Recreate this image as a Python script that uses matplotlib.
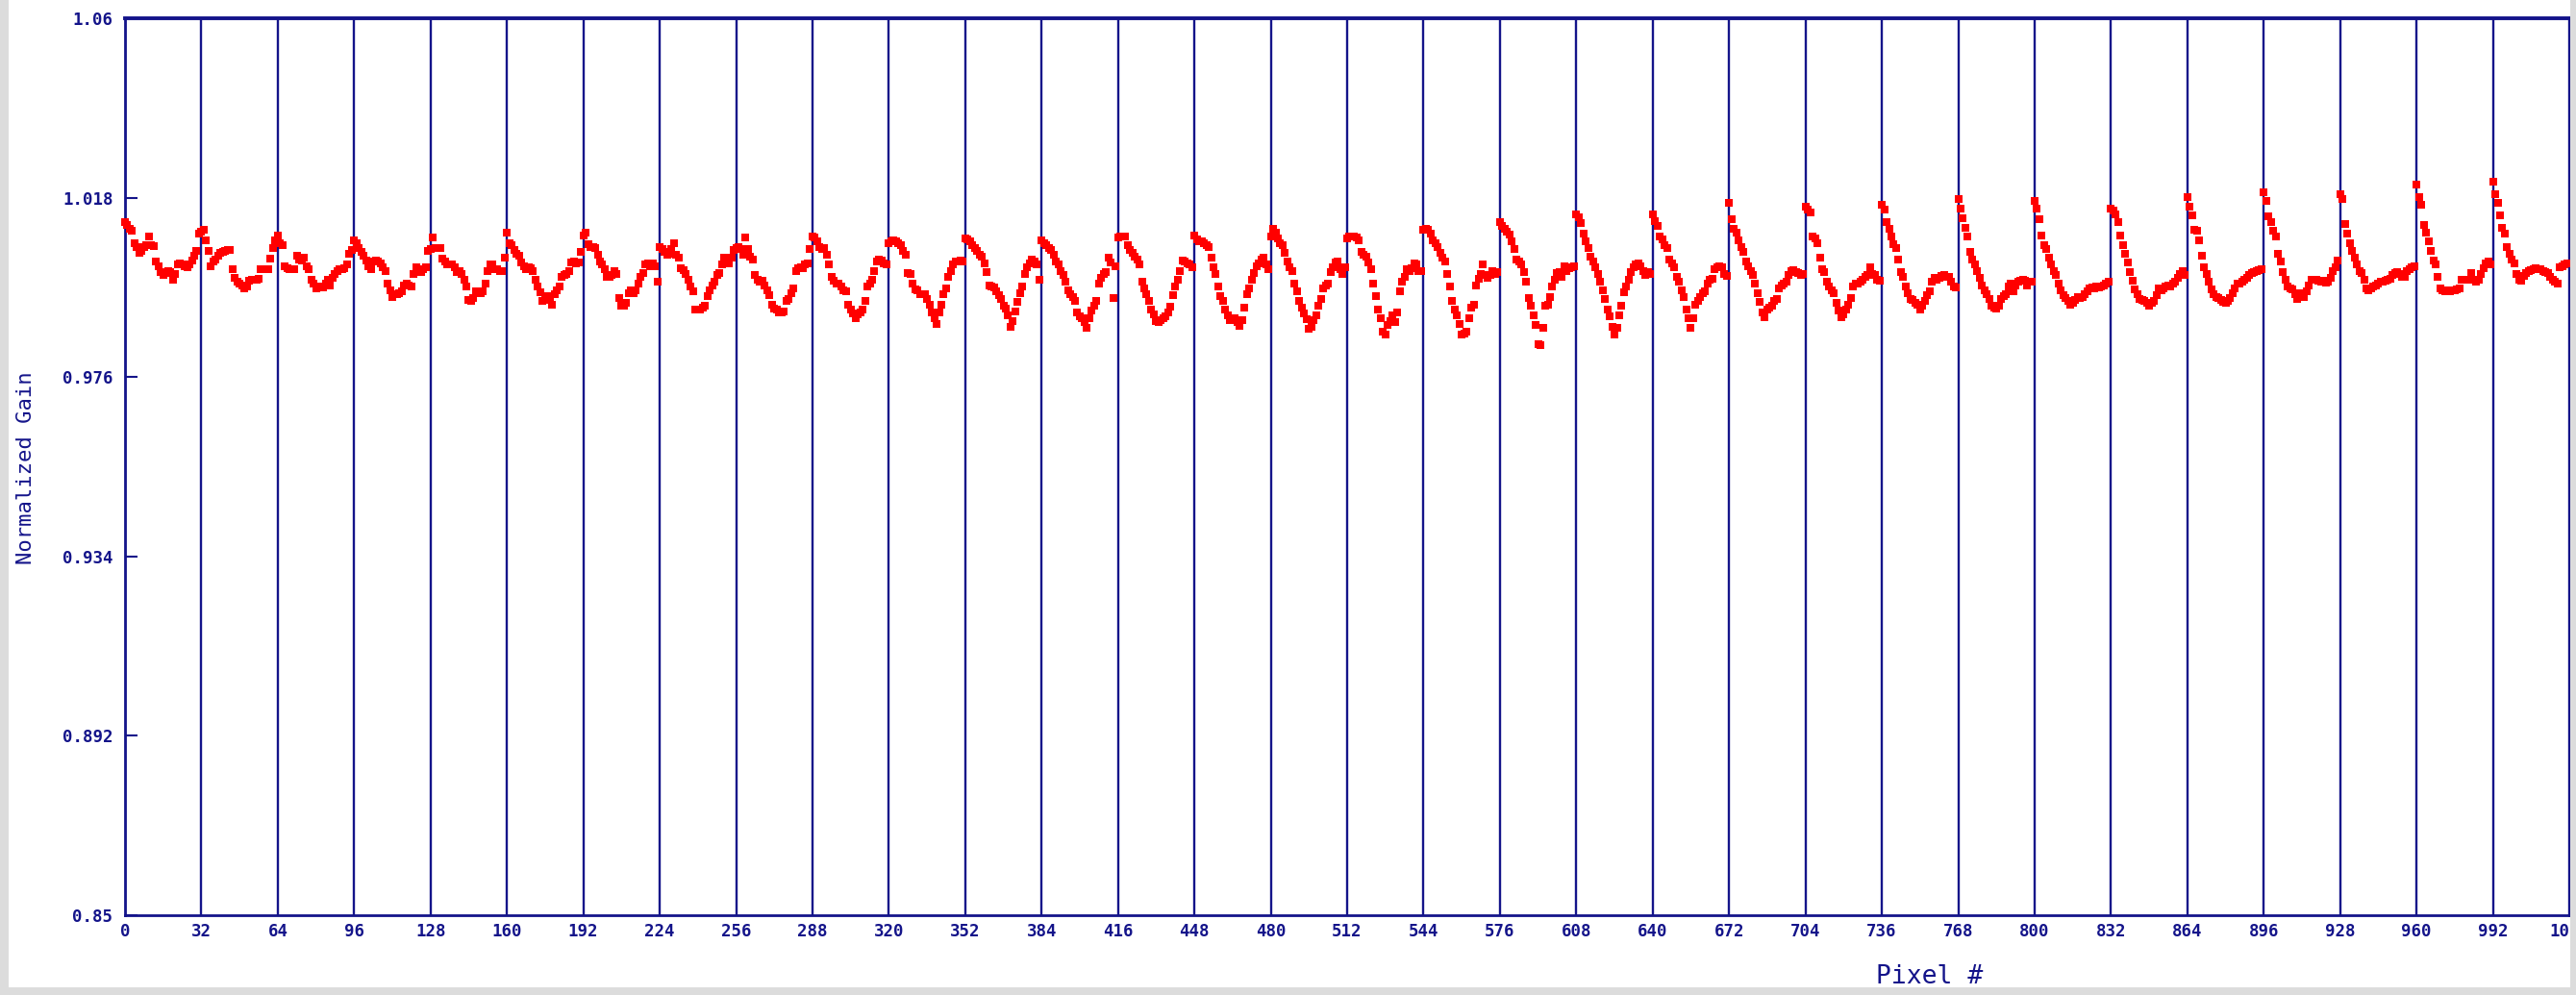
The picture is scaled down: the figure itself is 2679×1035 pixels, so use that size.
import numpy as np
import matplotlib
matplotlib.use("Agg")
import matplotlib.pyplot as plt
from matplotlib.patches import Rectangle

# ---------------- data (normalized gain per pixel) ----------------
gain_px000_127 = [
    1.0122, 1.0116, 1.0108, 1.0103, 1.0073, 1.0065, 1.0050, 1.0056, 1.0065, 1.0069,
    1.0090, 1.0068, 1.0067, 1.0030, 1.0020, 1.0005, 1.0000, 1.0003, 1.0009, 1.0005,
    0.9988, 1.0002, 1.0023, 1.0026, 1.0024, 1.0020, 1.0018, 1.0023, 1.0033, 1.0043,
    1.0056, 1.0095,
    1.0101, 1.0105, 1.0080, 1.0056, 1.0020, 1.0030, 1.0035, 1.0043, 1.0050, 1.0053,
    1.0056, 1.0058, 1.0058, 1.0013, 0.9993, 0.9983, 0.9978, 0.9975, 0.9968, 0.9972,
    0.9985, 0.9988, 0.9988, 0.9988, 0.9990, 1.0013, 1.0013, 1.0013, 1.0013, 1.0038,
    1.0063, 1.0080,
    1.0092, 1.0073, 1.0069, 1.0020, 1.0015, 1.0013, 1.0013, 1.0013, 1.0043, 1.0035,
    1.0033, 1.0039, 1.0020, 1.0013, 0.9988, 0.9979, 0.9968, 0.9970, 0.9972, 0.9970,
    0.9978, 0.9987, 0.9975, 0.9993, 1.0002, 1.0009, 1.0013, 1.0013, 1.0015, 1.0024,
    1.0048, 1.0058,
    1.0080, 1.0073, 1.0063, 1.0053, 1.0043, 1.0032, 1.0020, 1.0013, 1.0030, 1.0032,
    1.0030, 1.0026, 1.0018, 1.0009, 0.9979, 0.9964, 0.9948, 0.9953, 0.9953, 0.9957,
    0.9960, 0.9975, 0.9979, 0.9975, 0.9972, 1.0002, 1.0018, 1.0013, 1.0005, 1.0013,
    1.0017, 1.0056,
]
gain_px128_255 = [
    1.0060, 1.0086, 1.0063, 1.0062, 1.0063, 1.0038, 1.0030, 1.0024, 1.0023, 1.0023,
    1.0017, 1.0005, 1.0008, 1.0002, 0.9988, 0.9972, 0.9940, 0.9938, 0.9945, 0.9960,
    0.9958, 0.9957, 0.9960, 0.9979, 1.0009, 1.0023, 1.0024, 1.0013, 1.0013, 1.0009,
    1.0008, 1.0039,
    1.0098, 1.0073, 1.0068, 1.0058, 1.0048, 1.0043, 1.0028, 1.0020, 1.0013, 1.0017,
    1.0015, 1.0008, 0.9988, 0.9972, 0.9958, 0.9938, 0.9940, 0.9949, 0.9948, 0.9930,
    0.9955, 0.9964, 0.9973, 0.9994, 0.9998, 1.0002, 1.0009, 1.0028, 1.0030, 1.0026,
    1.0028, 1.0054,
    1.0092, 1.0098, 1.0071, 1.0065, 1.0065, 1.0063, 1.0047, 1.0030, 1.0023, 1.0013,
    0.9994, 0.9994, 0.9998, 1.0009, 1.0002, 0.9945, 0.9928, 0.9927, 0.9934, 0.9957,
    0.9963, 0.9957, 0.9963, 0.9979, 0.9994, 1.0003, 1.0023, 1.0026, 1.0020, 1.0026,
    1.0020, 0.9983,
    1.0065, 1.0060, 1.0054, 1.0047, 1.0048, 1.0060, 1.0073, 1.0047, 1.0039, 1.0015,
    1.0011, 1.0002, 0.9988, 0.9972, 0.9960, 0.9919, 0.9918, 0.9919, 0.9923, 0.9927,
    0.9949, 0.9964, 0.9975, 0.9983, 0.9998, 1.0003, 1.0024, 1.0039, 1.0038, 1.0026,
    1.0039, 1.0058,
]
gain_px256_383 = [
    1.0063, 1.0065, 1.0060, 1.0047, 1.0086, 1.0060, 1.0041, 1.0035, 1.0000, 0.9988,
    0.9983, 0.9985, 0.9975, 0.9963, 0.9951, 0.9930, 0.9921, 0.9918, 0.9912, 0.9912,
    0.9913, 0.9938, 0.9943, 0.9957, 0.9968, 1.0009, 1.0015, 1.0017, 1.0015, 1.0023,
    1.0026, 1.0060,
    1.0090, 1.0086, 1.0077, 1.0065, 1.0060, 1.0062, 1.0047, 1.0023, 0.9994, 0.9985,
    0.9979, 0.9979, 0.9972, 0.9964, 0.9960, 0.9930, 0.9918, 0.9908, 0.9897, 0.9906,
    0.9912, 0.9919, 0.9938, 0.9972, 0.9978, 0.9988, 1.0009, 1.0030, 1.0035, 1.0033,
    1.0026, 1.0023,
    1.0073, 1.0078, 1.0080, 1.0077, 1.0073, 1.0068, 1.0056, 1.0047, 1.0003, 1.0002,
    0.9979, 0.9966, 0.9964, 0.9955, 0.9953, 0.9955, 0.9942, 0.9930, 0.9912, 0.9897,
    0.9885, 0.9912, 0.9930, 0.9953, 0.9968, 0.9994, 1.0009, 1.0024, 1.0030, 1.0030,
    1.0033, 1.0030,
    1.0084, 1.0083, 1.0077, 1.0069, 1.0063, 1.0056, 1.0047, 1.0041, 1.0026, 1.0005,
    0.9975, 0.9973, 0.9970, 0.9960, 0.9951, 0.9942, 0.9927, 0.9921, 0.9904, 0.9878,
    0.9891, 0.9913, 0.9936, 0.9957, 0.9973, 1.0002, 1.0017, 1.0026, 1.0035, 1.0030,
    1.0024, 0.9988,
]
gain_px384_511 = [
    1.0080, 1.0073, 1.0068, 1.0063, 1.0058, 1.0047, 1.0030, 1.0024, 1.0009, 0.9998,
    0.9983, 0.9964, 0.9955, 0.9948, 0.9938, 0.9912, 0.9903, 0.9897, 0.9888, 0.9876,
    0.9897, 0.9915, 0.9927, 0.9938, 0.9979, 0.9993, 1.0002, 1.0005, 1.0039, 1.0028,
    0.9945, 1.0020,
    1.0086, 1.0088, 1.0090, 1.0088, 1.0068, 1.0058, 1.0050, 1.0041, 1.0035, 1.0024,
    0.9983, 0.9968, 0.9955, 0.9938, 0.9919, 0.9906, 0.9891, 0.9889, 0.9893, 0.9897,
    0.9903, 0.9912, 0.9925, 0.9951, 0.9973, 0.9988, 1.0009, 1.0033, 1.0030, 1.0026,
    1.0023, 1.0018,
    1.0092, 1.0083, 1.0078, 1.0077, 1.0073, 1.0069, 1.0065, 1.0039, 1.0018, 1.0002,
    0.9972, 0.9949, 0.9938, 0.9919, 0.9904, 0.9893, 0.9893, 0.9897, 0.9889, 0.9880,
    0.9893, 0.9923, 0.9953, 0.9968, 0.9988, 1.0003, 1.0020, 1.0026, 1.0035, 1.0039,
    1.0023, 1.0013,
    1.0088, 1.0107, 1.0098, 1.0084, 1.0073, 1.0068, 1.0050, 1.0030, 1.0017, 1.0009,
    0.9979, 0.9960, 0.9938, 0.9923, 0.9908, 0.9895, 0.9874, 0.9878, 0.9893, 0.9904,
    0.9927, 0.9943, 0.9968, 0.9975, 0.9979, 1.0005, 1.0017, 1.0028, 1.0030, 1.0013,
    1.0002, 1.0017,
]
gain_px512_639 = [
    1.0084, 1.0088, 1.0090, 1.0088, 1.0086, 1.0080, 1.0053, 1.0047, 1.0041, 1.0028,
    1.0013, 0.9979, 0.9949, 0.9919, 0.9897, 0.9867, 0.9859, 0.9882, 0.9891, 0.9904,
    0.9889, 0.9912, 0.9960, 0.9983, 0.9994, 1.0013, 1.0009, 1.0015, 1.0026, 1.0024,
    1.0009, 1.0008,
    1.0105, 1.0108, 1.0105, 1.0095, 1.0080, 1.0073, 1.0065, 1.0050, 1.0039, 1.0030,
    1.0002, 0.9972, 0.9938, 0.9919, 0.9904, 0.9885, 0.9859, 0.9861, 0.9867, 0.9897,
    0.9923, 0.9930, 0.9975, 0.9990, 1.0002, 1.0024, 0.9998, 0.9993, 0.9998, 1.0008,
    1.0002, 1.0005,
    1.0122, 1.0114, 1.0107, 1.0101, 1.0093, 1.0078, 1.0060, 1.0035, 1.0030, 1.0024,
    1.0005, 0.9983, 0.9945, 0.9927, 0.9904, 0.9882, 0.9838, 0.9835, 0.9876, 0.9927,
    0.9930, 0.9948, 0.9972, 0.9988, 1.0003, 1.0005, 0.9994, 1.0020, 1.0009, 1.0015,
    1.0018, 1.0020,
    1.0140, 1.0133, 1.0120, 1.0095, 1.0078, 1.0062, 1.0041, 1.0030, 1.0018, 1.0002,
    0.9983, 0.9963, 0.9942, 0.9919, 0.9903, 0.9878, 0.9859, 0.9876, 0.9904, 0.9927,
    0.9958, 0.9972, 0.9988, 1.0005, 1.0017, 1.0023, 1.0026, 1.0020, 1.0009, 1.0000,
    1.0005, 1.0002,
]
gain_px640_767 = [
    1.0140, 1.0125, 1.0113, 1.0090, 1.0083, 1.0069, 1.0062, 1.0035, 1.0026, 1.0018,
    0.9994, 0.9983, 0.9964, 0.9948, 0.9919, 0.9898, 0.9876, 0.9897, 0.9930, 0.9938,
    0.9948, 0.9957, 0.9960, 0.9979, 0.9988, 0.9990, 1.0013, 1.0018, 1.0020, 1.0017,
    1.0002, 0.9996,
    1.0168, 1.0129, 1.0107, 1.0098, 1.0080, 1.0065, 1.0054, 1.0030, 1.0020, 1.0009,
    0.9998, 0.9979, 0.9957, 0.9936, 0.9912, 0.9900, 0.9918, 0.9923, 0.9927, 0.9938,
    0.9943, 0.9968, 0.9975, 0.9979, 0.9983, 1.0000, 1.0009, 1.0011, 1.0005, 1.0003,
    1.0000, 1.0002,
    1.0158, 1.0152, 1.0146, 1.0090, 1.0084, 1.0073, 1.0039, 1.0013, 1.0005, 0.9983,
    0.9972, 0.9964, 0.9957, 0.9934, 0.9915, 0.9900, 0.9906, 0.9918, 0.9930, 0.9945,
    0.9973, 0.9978, 0.9979, 0.9983, 0.9988, 0.9994, 0.9998, 1.0018, 1.0002, 1.0000,
    0.9988, 0.9985,
    1.0163, 1.0153, 1.0122, 1.0108, 1.0088, 1.0071, 1.0063, 1.0035, 1.0005, 0.9994,
    0.9973, 0.9957, 0.9943, 0.9940, 0.9934, 0.9930, 0.9919, 0.9927, 0.9938, 0.9951,
    0.9960, 0.9983, 0.9993, 0.9988, 0.9993, 0.9996, 0.9998, 0.9994, 0.9994, 0.9983,
    0.9972, 0.9970,
]
gain_px768_895 = [
    1.0176, 1.0155, 1.0131, 1.0110, 1.0088, 1.0054, 1.0035, 1.0024, 1.0009, 0.9993,
    0.9975, 0.9963, 0.9955, 0.9943, 0.9928, 0.9923, 0.9921, 0.9928, 0.9943, 0.9949,
    0.9955, 0.9972, 0.9978, 0.9960, 0.9975, 0.9983, 0.9985, 0.9988, 0.9985, 0.9975,
    0.9983, 0.9983,
    1.0173, 1.0155, 1.0129, 1.0092, 1.0068, 1.0060, 1.0039, 1.0023, 1.0009, 0.9998,
    0.9979, 0.9963, 0.9951, 0.9945, 0.9938, 0.9930, 0.9933, 0.9940, 0.9948, 0.9945,
    0.9948, 0.9953, 0.9960, 0.9968, 0.9970, 0.9968, 0.9972, 0.9970, 0.9972, 0.9975,
    0.9979, 0.9983,
    1.0155, 1.0150, 1.0140, 1.0122, 1.0092, 1.0068, 1.0048, 1.0028, 1.0005, 0.9985,
    0.9966, 0.9953, 0.9943, 0.9940, 0.9938, 0.9934, 0.9928, 0.9933, 0.9938, 0.9951,
    0.9968, 0.9964, 0.9968, 0.9972, 0.9975, 0.9973, 0.9979, 0.9983, 0.9993, 1.0002,
    1.0008, 0.9998,
    1.0182, 1.0158, 1.0138, 1.0105, 1.0103, 1.0080, 1.0043, 1.0018, 1.0002, 0.9983,
    0.9966, 0.9955, 0.9948, 0.9945, 0.9940, 0.9936, 0.9934, 0.9938, 0.9945, 0.9957,
    0.9968, 0.9978, 0.9979, 0.9983, 0.9987, 0.9993, 0.9998, 1.0003, 1.0005, 1.0009,
    1.0011, 1.0013,
]
gain_px896_1023 = [
    1.0193, 1.0173, 1.0137, 1.0123, 1.0103, 1.0088, 1.0048, 1.0030, 1.0005, 0.9988,
    0.9973, 0.9968, 0.9966, 0.9953, 0.9942, 0.9957, 0.9955, 0.9948, 0.9960, 0.9975,
    0.9987, 0.9988, 0.9987, 0.9985, 0.9983, 0.9985, 0.9981, 0.9983, 0.9993, 1.0009,
    1.0017, 1.0032,
    1.0188, 1.0176, 1.0118, 1.0095, 1.0073, 1.0056, 1.0039, 1.0024, 1.0009, 1.0003,
    0.9987, 0.9968, 0.9964, 0.9968, 0.9972, 0.9975, 0.9979, 0.9983, 0.9983, 0.9985,
    0.9987, 0.9990, 0.9998, 1.0003, 1.0005, 1.0002, 0.9994, 0.9994, 1.0008, 1.0013,
    1.0017, 1.0020,
    1.0210, 1.0182, 1.0163, 1.0116, 1.0099, 1.0078, 1.0056, 1.0033, 1.0023, 0.9994,
    0.9968, 0.9963, 0.9960, 0.9963, 0.9960, 0.9963, 0.9964, 0.9966, 0.9968, 0.9987,
    0.9988, 0.9987, 0.9988, 1.0003, 0.9987, 0.9983, 0.9988, 1.0002, 1.0015, 1.0026,
    1.0030, 1.0024,
    1.0218, 1.0189, 1.0168, 1.0138, 1.0110, 1.0095, 1.0065, 1.0048, 1.0035, 1.0026,
    1.0002, 0.9988, 0.9985, 0.9996, 1.0003, 1.0009, 1.0011, 1.0013, 1.0014, 1.0013,
    1.0012, 1.0009, 1.0005, 1.0003, 0.9994, 0.9988, 0.9983, 0.9978, 1.0018, 1.0020,
    1.0023, 1.0026,
]

y_ticks = [0.85, 0.892, 0.934, 0.976, 1.018, 1.06]
y_tick_labels = ["0.85", "0.892", "0.934", "0.976", "1.018", "1.06"]
x_ticks = list(range(0, 1025, 32))
x_tick_labels = [str(t) for t in x_ticks]

gain = np.array(gain_px000_127 + gain_px128_255 + gain_px256_383 + gain_px384_511
                + gain_px512_639 + gain_px640_767 + gain_px768_895 + gain_px896_1023)
pixel = np.arange(len(gain))

# ---------------- styling ----------------
NAVY = "#14148a"
MONO = "DejaVu Sans Mono"
W, H = 2679, 1035

fig = plt.figure(figsize=(W / 100, H / 100), dpi=100)
fig.patch.set_facecolor("white")

left, right, top, bottom = 130, 2672, 19, 952
ax = fig.add_axes([left / W, (H - bottom) / H, (right - left) / W, (bottom - top) / H])

ax.plot(pixel, gain, linestyle="none", marker="s", markersize=5.2,
        markerfacecolor="#ff0000", markeredgewidth=0, clip_on=False, zorder=3)

ax.set_xlim(0, 1024)
ax.set_ylim(0.85, 1.06)

ax.set_xticks(x_ticks)
ax.set_xticklabels(x_tick_labels, fontfamily=MONO, fontsize=12.5,
                   fontweight="bold", color=NAVY)
ax.set_yticks(y_ticks)
ax.set_yticklabels(y_tick_labels, fontfamily=MONO, fontsize=12.5,
                   fontweight="bold", color=NAVY)

ax.tick_params(axis="x", length=0, pad=6)
ax.tick_params(axis="y", direction="in", length=9.5, width=1.5, color=NAVY, pad=9)

ax.grid(axis="x", color=NAVY, linewidth=1.7)
ax.set_axisbelow(True)
for sp in ax.spines.values():
    sp.set_color(NAVY)
    sp.set_linewidth(2.0)
ax.spines["top"].set_linewidth(2.8)

fig.text(2007 / W, 1 - 1016 / H, "Pixel #", ha="center", va="center",
         fontfamily=MONO, fontsize=19, color=NAVY)
fig.text(27 / W, 1 - 487 / H, "Normalized Gain", ha="center", va="center",
         rotation=90, fontfamily=MONO, fontsize=16, color=NAVY)

# grey window frame strips (left, bottom, right)
GREY = "#dcdcdc"
fig.add_artist(Rectangle((0, 0), 9 / W, 1, transform=fig.transFigure,
                         facecolor=GREY, edgecolor="none", zorder=20))
fig.add_artist(Rectangle((0, 0), 1, 8 / H, transform=fig.transFigure,
                         facecolor=GREY, edgecolor="none", zorder=20))
fig.add_artist(Rectangle((2673 / W, 0), 6 / W, 1, transform=fig.transFigure,
                         facecolor=GREY, edgecolor="none", zorder=20))

fig.savefig("out.png", dpi=100)
